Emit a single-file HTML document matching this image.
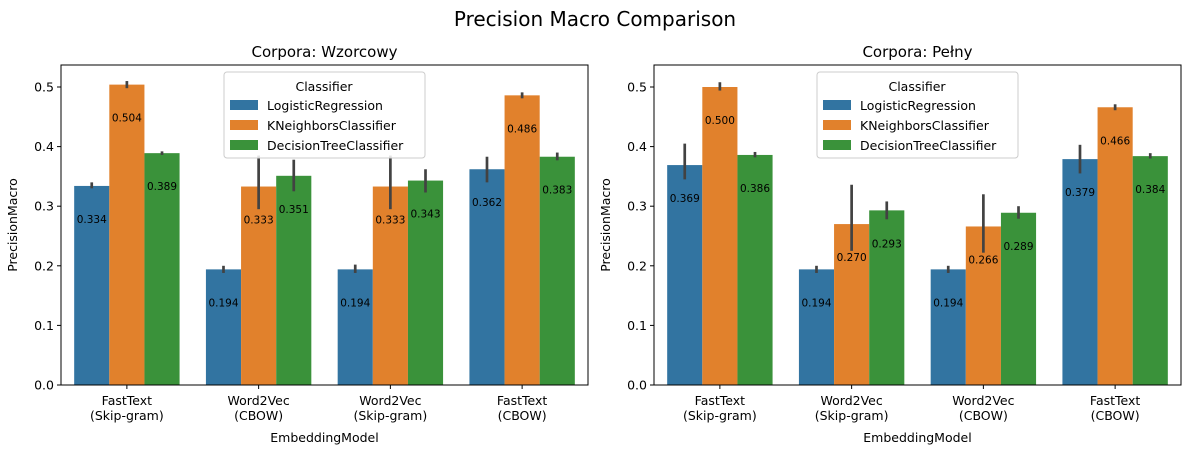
<!DOCTYPE html>
<html><head><meta charset="utf-8"><style>
body{margin:0;background:#fff;font-family:"Liberation Sans","DejaVu Sans",sans-serif;}
svg text{font-family:"DejaVu Sans","Liberation Sans",sans-serif;}
</style></head><body>
<svg id="chart" width="1189" height="454" xmlns="http://www.w3.org/2000/svg">
<text x="595" y="26" font-size="20" text-anchor="middle">Precision Macro Comparison</text>
</svg>
<script>
const classifiers=["LogisticRegression","KNeighborsClassifier","DecisionTreeClassifier"];
const colors=["#3274a1","#e1812c","#3a923a"];
const catsLeft=["FastText\n(Skip-gram)","Word2Vec\n(CBOW)","Word2Vec\n(Skip-gram)","FastText\n(CBOW)"];
const catsRight=["FastText\n(Skip-gram)","Word2Vec\n(Skip-gram)","Word2Vec\n(CBOW)","FastText\n(CBOW)"];
const valsLeft=[[0.334,0.194,0.194,0.362],[0.504,0.333,0.333,0.486],[0.389,0.351,0.343,0.383]];
const loLeft=[[0.330,0.188,0.188,0.340],[0.498,0.295,0.295,0.481],[0.386,0.325,0.323,0.377]];
const hiLeft=[[0.340,0.200,0.202,0.383],[0.510,0.385,0.385,0.491],[0.392,0.378,0.362,0.390]];
const valsRight=[[0.369,0.194,0.194,0.379],[0.500,0.270,0.266,0.466],[0.386,0.293,0.289,0.384]];
const loRight=[[0.345,0.188,0.188,0.355],[0.494,0.225,0.222,0.461],[0.382,0.278,0.279,0.380]];
const hiRight=[[0.405,0.200,0.200,0.403],[0.508,0.336,0.320,0.471],[0.391,0.308,0.300,0.389]];
const yTicks=[0,0.1,0.2,0.3,0.4,0.5];
const NS="http://www.w3.org/2000/svg";
const svg=document.getElementById('chart');
function mk(tag,attrs,parent){const e=document.createElementNS(NS,tag);for(const k in attrs)e.setAttribute(k,attrs[k]);(parent||svg).appendChild(e);return e;}
function panel(x0,title,cats,vals,lo,hi,pname){
  const x1=x0+527,yT=65,yB=385;
  const y=v=>yB-v*596;
  const g=mk('g',{});
  
  
  const t=mk('text',{x:(x0+x1)/2,y:57,'font-size':15,'text-anchor':'middle'},g);t.textContent=title;
  
  const gw=(x1-x0)/cats.length,bw=gw*0.8/3;
  for(let c=0;c<cats.length;c++){
    const cx=x0+gw*(c+0.5);
    for(let s=0;s<3;s++){
      const bx=cx-gw*0.4+s*bw,v=vals[s][c];
      const r=mk('rect',{x:bx,y:y(v),width:bw,height:yB-y(v),fill:colors[s]},g);
      
      const l=mk('line',{x1:bx+bw/2,x2:bx+bw/2,y1:y(lo[s][c]),y2:y(hi[s][c]),stroke:'#424242','stroke-width':2.7},g);
      
      const lt=mk('text',{x:bx+bw/2,y:y(v)+37,'font-size':10.5,'text-anchor':'middle'},g);lt.textContent=v.toFixed(3);
      
    }
    const lines=cats[c].split('\n');
    lines.forEach((ln,i)=>{const tt=mk('text',{x:cx,y:yB+20+i*15,'font-size':12.5,'text-anchor':'middle'},g);tt.textContent=ln;
      });
    mk('line',{x1:cx,x2:cx,y1:yB,y2:yB+4,stroke:'#000'},g);
  }
  yTicks.forEach(v=>{mk('line',{x1:x0-4,x2:x0,y1:y(v),y2:y(v),stroke:'#000'},g);
    const tt=mk('text',{x:x0-7,y:y(v)+4.5,'font-size':12.5,'text-anchor':'end'},g);tt.textContent=v.toFixed(1);
    });
  mk('rect',{x:x0,y:yT,width:x1-x0,height:yB-yT,fill:'none',stroke:'#000','stroke-width':1},g);
  const xl=mk('text',{x:(x0+x1)/2,y:442,'font-size':12.5,'text-anchor':'middle'},g);xl.textContent='EmbeddingModel';
  
  const yl=mk('text',{x:0,y:0,'font-size':12.5,'text-anchor':'middle',transform:`translate(${x0-44},225) rotate(-90)`},g);yl.textContent='PrecisionMacro';
  
  const lx=x0+163,ly=72;
  const lg=mk('g',{},g);
  
  mk('rect',{x:lx,y:ly,width:201,height:86,rx:3,fill:'rgba(255,255,255,0.85)',stroke:'#ccc'},lg);
  const lt=mk('text',{x:lx+100,y:ly+19,'font-size':12.5,'text-anchor':'middle'},lg);lt.textContent='Classifier';
  classifiers.forEach((n,i)=>{mk('rect',{x:lx+6,y:ly+28+i*20,width:28,height:10,fill:colors[i]},lg);
    const e=mk('text',{x:lx+43,y:ly+38+i*20,'font-size':12.5},lg);e.textContent=n;
    });
}
panel(61,'Corpora: Wzorcowy',catsLeft,valsLeft,loLeft,hiLeft,'panel-wzorcowy');
panel(654,'Corpora: Pełny',catsRight,valsRight,loRight,hiRight,'panel-pelny');
</script>
</body></html>
